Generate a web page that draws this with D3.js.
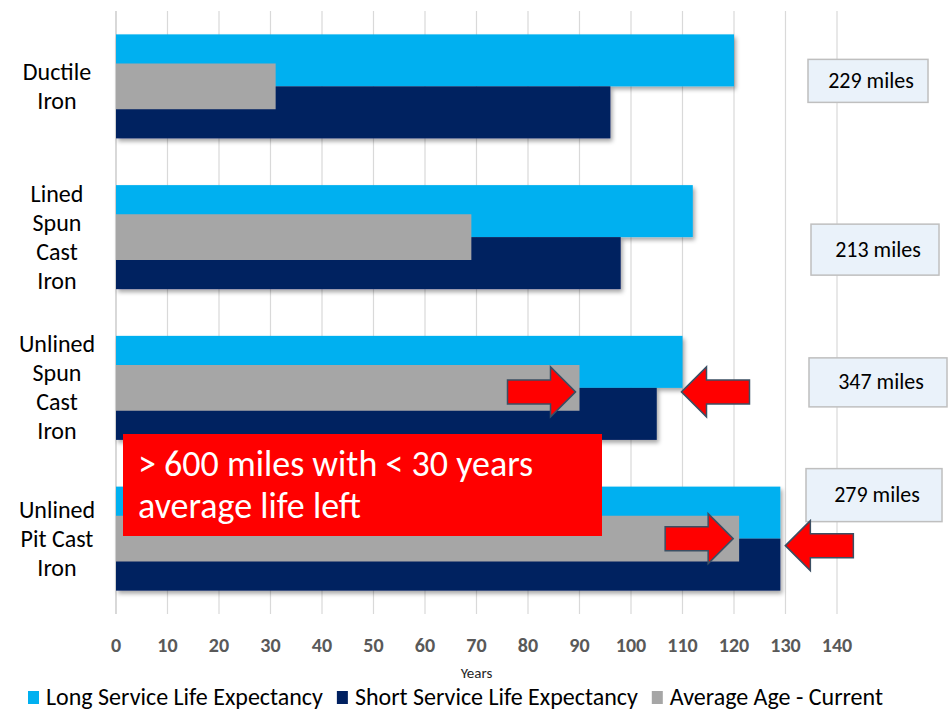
<!DOCTYPE html>
<html>
<head>
<meta charset="utf-8">
<script src="https://cdn.jsdelivr.net/npm/d3@7"></script>
<style>
  body { margin: 0; background: #fff; }
  #chart { width: 950px; height: 711px; }
  text { font-family: Carlito, Calibri, Lato, sans-serif; }
</style>
</head>
<body>
<div id="chart"></div>
<script>
// chart values
const categories = ['Ductile Iron', 'Lined Spun Cast Iron', 'Unlined Spun Cast Iron', 'Unlined Pit Cast Iron'];
const categoryLines = [['Ductile', 'Iron'], ['Lined', 'Spun', 'Cast', 'Iron'], ['Unlined', 'Spun', 'Cast', 'Iron'], ['Unlined', 'Pit Cast', 'Iron']];
const longLife = [120, 112, 110, 129];
const shortLife = [96, 98, 105, 129];
const avgAge = [31, 69, 90, 121];
const milesLabels = ['229 miles', '213 miles', '347 miles', '279 miles'];
const xDomain = [0, 140];
const seriesNames = ['Long Service Life Expectancy', 'Short Service Life Expectancy', 'Average Age - Current'];
const calloutLines = ['> 600 miles with < 30 years', 'average life left'];

const colors = {long: '#00b0f0', short: '#002060', avg: '#a6a6a6'};

const width = 950, height = 711;

const svg = d3.select('#chart').append('svg')
  .attr('width', width)
  .attr('height', height);

const defs = svg.append('defs');
defs.append('filter')
    .attr('id', 'shadow')
    .attr('x', '-5%').attr('y', '-20%')
    .attr('width', '115%').attr('height', '150%')
  .append('feDropShadow')
    .attr('dx', 2).attr('dy', 3)
    .attr('stdDeviation', 2)
    .attr('flood-color', '#000')
    .attr('flood-opacity', 0.35);

const x = d3.scaleLinear(xDomain, [116, 837]);
const y = d3.scaleBand(categories, [11, 614])
  .paddingInner(0.31)
  .paddingOuter(0.155);
const bw = y.bandwidth();
const mid = d => y(d) + bw / 2;

// grid
const grid = svg.append('g');
grid.selectAll('line')
  .data(x.ticks(14))
  .join('line')
    .attr('x1', d => x(d)).attr('x2', d => x(d))
    .attr('y1', 11).attr('y2', 614)
    .attr('stroke', d => d === 0 ? '#bfbfbf' : '#d9d9d9')
    .attr('stroke-width', 1.2);

// tick labels
svg.append('g')
  .selectAll('text')
  .data(x.ticks(14))
  .join('text')
    .attr('x', d => x(d))
    .attr('y', 652)
    .attr('text-anchor', 'middle')
    .attr('font-size', 20)
    .attr('font-weight', 'bold')
    .attr('fill', '#595959')
    .text(d => d);

svg.append('text')
  .attr('x', (x(0) + x(140)) / 2)
  .attr('y', 678)
  .attr('text-anchor', 'middle')
  .attr('font-size', 15)
  .attr('fill', '#262626')
  .text('Years');

// bars
const bars = svg.append('g').attr('filter', 'url(#shadow)');

bars.selectAll('rect.long')
  .data(categories)
  .join('rect')
    .attr('class', 'long')
    .attr('x', x(0))
    .attr('y', d => y(d))
    .attr('width', (d, i) => x(longLife[i]) - x(0))
    .attr('height', bw / 2)
    .attr('fill', colors.long);

bars.selectAll('rect.short')
  .data(categories)
  .join('rect')
    .attr('class', 'short')
    .attr('x', x(0))
    .attr('y', d => mid(d))
    .attr('width', (d, i) => x(shortLife[i]) - x(0))
    .attr('height', bw / 2)
    .attr('fill', colors.short);

bars.selectAll('rect.avg')
  .data(categories)
  .join('rect')
    .attr('class', 'avg')
    .attr('x', x(0))
    .attr('y', d => mid(d) - bw * 0.22)
    .attr('width', (d, i) => x(avgAge[i]) - x(0))
    .attr('height', bw * 0.44)
    .attr('fill', colors.avg);

// category labels
const catLabels = svg.append('g')
  .selectAll('text')
  .data(categories)
  .join('text')
    .attr('text-anchor', 'middle')
    .attr('font-size', 24)
    .attr('fill', '#000');

catLabels.each(function(d, i) {
  const lines = categoryLines[i];
  const lh = 29;
  const top = mid(d) - (lines.length - 1) * lh / 2 + 8;
  d3.select(this).selectAll('tspan')
    .data(lines)
    .join('tspan')
      .attr('x', 57)
      .attr('y', (l, j) => top + j * lh)
      .text(l => l);
});

// miles boxes (hand placed in the original)
const boxLayout = [
  {left: 808, dy: -5.5, w: 120, h: 43},
  {left: 811, dy: 12.5, w: 128, h: 51},
  {left: 809, dy: -5.5, w: 138, h: 49},
  {left: 806, dy: -43.5, w: 136, h: 53}
];

const boxes = svg.append('g')
  .selectAll('g')
  .data(categories)
  .join('g')
    .attr('transform', (d, i) => `translate(${boxLayout[i].left},${mid(d) + boxLayout[i].dy})`);

boxes.append('rect')
  .attr('x', 0)
  .attr('y', (d, i) => -boxLayout[i].h / 2)
  .attr('width', (d, i) => boxLayout[i].w)
  .attr('height', (d, i) => boxLayout[i].h)
  .attr('fill', '#eaf2fa')
  .attr('stroke', '#bfbfbf')
  .attr('stroke-width', 1.5);

boxes.append('text')
  .attr('x', (d, i) => boxLayout[i].w / 2 + 3)
  .attr('y', 7)
  .attr('text-anchor', 'middle')
  .attr('font-size', 22)
  .attr('fill', '#000')
  .text((d, i) => milesLabels[i]);

// callout
const callout = svg.append('g');
callout.append('rect')
  .attr('x', 123).attr('y', 434)
  .attr('width', 479).attr('height', 102)
  .attr('fill', '#ff0000');
callout.append('text')
  .attr('font-size', 36)
  .attr('fill', '#fff')
  .selectAll('tspan')
  .data(calloutLines)
  .join('tspan')
    .attr('x', 138)
    .attr('y', (d, i) => 476 + i * 42)
    .text(d => d);

// arrows
const arrowPath = (tx, ty, dir) => {
  const p = [[0, 0], [25, -25], [25, -12], [68, -12], [68, 12], [25, 12], [25, 25]];
  return 'M' + p.map(([a, b]) => `${tx - dir * a},${ty + b}`).join('L') + 'Z';
};

const arrows = [
  {i: 2, v: avgAge, dir: 1, dx: -4, dy: 4},
  {i: 2, v: longLife, dir: -1, dx: -1, dy: 4},
  {i: 3, v: avgAge, dir: 1, dx: -6, dy: 0},
  {i: 3, v: longLife, dir: -1, dx: 5, dy: 7}
];

svg.append('g')
  .selectAll('path')
  .data(arrows)
  .join('path')
    .attr('d', a => arrowPath(x(a.v[a.i]) + a.dx, mid(categories[a.i]) + a.dy, a.dir))
    .attr('fill', '#ff0000')
    .attr('stroke', '#3b4f63')
    .attr('stroke-width', 1.5);

// legend
const legend = svg.append('g');
const legendColors = [colors.long, colors.short, colors.avg];
let lx = 28;
seriesNames.forEach((name, i) => {
  legend.append('rect')
    .attr('x', lx).attr('y', 691)
    .attr('width', 11).attr('height', 13)
    .attr('fill', legendColors[i]);
  const t = legend.append('text')
    .attr('x', lx + 18)
    .attr('y', 705)
    .attr('font-size', 24)
    .attr('fill', '#000')
    .text(name);
  lx += 18 + t.node().getComputedTextLength() + 14;
});
</script>
</body>
</html>
